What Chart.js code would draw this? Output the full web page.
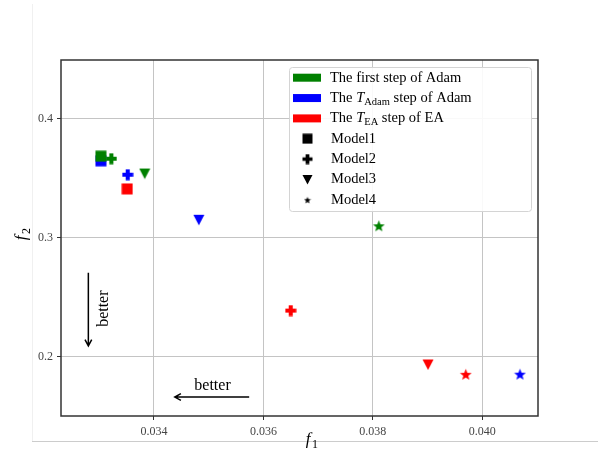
<!DOCTYPE html>
<html lang="en">
<head>
    <meta charset="UTF-8">
    <title>f1 vs f2 of the models</title>
    <script src="https://cdn.jsdelivr.net/npm/chart.js"></script>
    <style>
        body {
            margin: 0;
            padding: 0;
            background-color: white;
        }
        .chart-box {
            width: 605px;
            height: 451px;
        }
    </style>
</head>
<body>

    <div class="chart-box">
        <canvas id="chart" width="605" height="451"></canvas>
    </div>

    <script>
        // values
        const models = ['Model1', 'Model2', 'Model3', 'Model4'];
        const firstStepF1 = [0.03303, 0.03322, 0.03383, 0.03811];
        const firstStepF2 = [0.3683, 0.3662, 0.3538, 0.3100];
        const adamStepF1 = [0.03303, 0.03352, 0.03482, 0.04069];
        const adamStepF2 = [0.3645, 0.3528, 0.3150, 0.1856];
        const eaStepF1 = [0.03351, 0.03650, 0.03901, 0.03970];
        const eaStepF2 = [0.3409, 0.2389, 0.1937, 0.1855];

        const xTicks = [0.034, 0.036, 0.038, 0.040];
        const yTicks = [0.2, 0.3, 0.4];

        const serif = "'Liberation Serif', 'DejaVu Serif', serif";

        // marker images (square, plus, triangle down, star)
        function makeMarker(shape, color, size) {
            const c = document.createElement('canvas');
            c.width = size;
            c.height = size;
            const g = c.getContext('2d');
            const m = size / 2;
            g.fillStyle = color;
            g.beginPath();
            if (shape === 'square') {
                g.rect(0.5, 0.5, size - 1, size - 1);
            } else if (shape === 'plus') {
                const t = size * 0.17;
                g.rect(m - t, 0.5, 2 * t, size - 1);
                g.rect(0.5, m - t, size - 1, 2 * t);
            } else if (shape === 'tri') {
                g.moveTo(0.5, size * 0.08);
                g.lineTo(size - 0.5, size * 0.08);
                g.lineTo(m, size * 0.95);
                g.closePath();
            } else if (shape === 'star') {
                const R = m - 0.3, r = R * 0.42;
                for (let i = 0; i < 10; i++) {
                    const a = -Math.PI / 2 + i * Math.PI / 5;
                    const rad = i % 2 === 0 ? R : r;
                    const px = m + rad * Math.cos(a);
                    const py = m + 0.6 + rad * Math.sin(a);
                    if (i === 0) g.moveTo(px, py); else g.lineTo(px, py);
                }
                g.closePath();
            }
            g.fill();
            return c;
        }

        const shapes = ['square', 'plus', 'tri', 'star'];
        const sizes = [12, 12, 12, 13];
        function markersFor(color) {
            return shapes.map((s, i) => makeMarker(s, color, sizes[i]));
        }

        function points(xs, ys) {
            return xs.map((x, i) => ({ x: x, y: ys[i] }));
        }

        const legendSteps = [
            { color: '#008000', parts: [['The first step of Adam', 'n']] },
            { color: '#0000ff', parts: [['The ', 'n'], ['T', 'i'], ['Adam', 's'], [' step of Adam', 'n']] },
            { color: '#ff0000', parts: [['The ', 'n'], ['T', 'i'], ['EA', 's'], [' step of EA', 'n']] }
        ];
        const legendMarkers = [
            makeMarker('square', '#000', 11),
            makeMarker('plus', '#000', 11),
            makeMarker('tri', '#000', 11),
            makeMarker('star', '#000', 8)
        ];

        function drawParts(ctx, parts, x, y) {
            ctx.textBaseline = 'middle';
            ctx.textAlign = 'left';
            parts.forEach(([txt, kind]) => {
                let dy = 0;
                if (kind === 'i') ctx.font = 'italic 14.5px ' + serif;
                else if (kind === 's') { ctx.font = '10.5px ' + serif; dy = 4; }
                else ctx.font = '14.5px ' + serif;
                ctx.fillText(txt, x, y + dy);
                x += ctx.measureText(txt).width;
            });
        }

        function arrow(ctx, x1, y1, x2, y2) {
            const a = Math.atan2(y2 - y1, x2 - x1);
            ctx.beginPath();
            ctx.moveTo(x1, y1);
            ctx.lineTo(x2, y2);
            ctx.moveTo(x2 - 7 * Math.cos(a - 0.5), y2 - 7 * Math.sin(a - 0.5));
            ctx.lineTo(x2, y2);
            ctx.lineTo(x2 - 7 * Math.cos(a + 0.5), y2 - 7 * Math.sin(a + 0.5));
            ctx.stroke();
        }

        const extras = {
            id: 'extras',
            beforeDraw(chart) {
                const ctx = chart.ctx;
                ctx.save();
                ctx.lineWidth = 1;
                ctx.strokeStyle = '#f0f0f0';
                ctx.beginPath();
                ctx.moveTo(32.5, 4);
                ctx.lineTo(32.5, 442);
                ctx.stroke();
                ctx.strokeStyle = '#cccccc';
                ctx.beginPath();
                ctx.moveTo(32, 441.5);
                ctx.lineTo(598, 441.5);
                ctx.stroke();
                ctx.restore();
            },
            afterDraw(chart) {
                const ctx = chart.ctx;
                const a = chart.chartArea;
                const xs = chart.scales.x, ys = chart.scales.y;
                ctx.save();

                // frame
                ctx.strokeStyle = '#333';
                ctx.lineWidth = 1.5;
                ctx.strokeRect(a.left, a.top, a.right - a.left, a.bottom - a.top);

                // "better" arrows
                ctx.strokeStyle = '#000';
                ctx.lineWidth = 1.5;
                arrow(ctx, xs.getPixelForValue(0.0328), ys.getPixelForValue(0.2706),
                    xs.getPixelForValue(0.0328), ys.getPixelForValue(0.2093));
                arrow(ctx, xs.getPixelForValue(0.03574), ys.getPixelForValue(0.1664),
                    xs.getPixelForValue(0.03438), ys.getPixelForValue(0.1664));
                ctx.fillStyle = '#000';
                ctx.font = '16px ' + serif;
                ctx.textAlign = 'center';
                ctx.textBaseline = 'middle';
                ctx.fillText('better', xs.getPixelForValue(0.03507), ys.getPixelForValue(0.1757));
                ctx.save();
                ctx.translate(xs.getPixelForValue(0.03308), ys.getPixelForValue(0.2405));
                ctx.rotate(-Math.PI / 2);
                ctx.fillText('better', 0, 0);
                ctx.restore();

                // axis titles
                ctx.font = 'italic 17px ' + serif;
                ctx.fillText('f', 308, 440);
                ctx.font = '12px ' + serif;
                ctx.fillText('1', 315, 445);
                ctx.save();
                ctx.translate(22, 236);
                ctx.rotate(-Math.PI / 2);
                ctx.font = 'italic 17px ' + serif;
                ctx.fillText('f', -2, 0);
                ctx.font = '12px ' + serif;
                ctx.fillText('2', 5, 5);
                ctx.restore();

                // legend
                const lx = 289, ly = 67, lw = 242, lh = 144;
                ctx.beginPath();
                ctx.roundRect(lx + 0.5, ly + 0.5, lw, lh, 3);
                ctx.fillStyle = 'rgba(255,255,255,0.9)';
                ctx.fill();
                ctx.strokeStyle = '#d4d4d4';
                ctx.lineWidth = 1;
                ctx.stroke();
                const rowY = i => 77.7 + i * 20.35;
                ctx.fillStyle = '#000';
                legendSteps.forEach((s, i) => {
                    ctx.fillStyle = s.color;
                    ctx.fillRect(293, rowY(i) - 4, 28, 8);
                    ctx.fillStyle = '#000';
                    drawParts(ctx, s.parts, 330, rowY(i));
                });
                models.forEach((m, i) => {
                    const img = legendMarkers[i];
                    const y = rowY(i + 3);
                    ctx.drawImage(img, 307.5 - img.width / 2, y - img.height / 2);
                    drawParts(ctx, [[m, 'n']], 331, y);
                });
                ctx.restore();
            }
        };

        const ctx = document.getElementById('chart').getContext('2d');
        new Chart(ctx, {
            type: 'scatter',
            data: {
                datasets: [
                    {
                        label: 'The first step of Adam',
                        data: points(firstStepF1, firstStepF2),
                        pointStyle: markersFor('#008000')
                    },
                    {
                        label: 'The T_Adam step of Adam',
                        data: points(adamStepF1, adamStepF2),
                        pointStyle: markersFor('#0000ff')
                    },
                    {
                        label: 'The T_EA step of EA',
                        data: points(eaStepF1, eaStepF2),
                        pointStyle: markersFor('#ff0000')
                    }
                ]
            },
            options: {
                responsive: false,
                animation: false,
                layout: { padding: { top: 60, right: 67, left: 0, bottom: 0 } },
                plugins: {
                    legend: { display: false },
                    tooltip: { enabled: false }
                },
                scales: {
                    x: {
                        type: 'linear',
                        min: 0.0323,
                        max: 0.04102,
                        afterBuildTicks: axis => { axis.ticks = xTicks.map(v => ({ value: v })); },
                        afterFit: scale => { scale.height = 35; },
                        border: { display: false },
                        grid: { color: '#c4c4c4', tickColor: '#333', tickLength: 4, lineWidth: 1 },
                        ticks: {
                            callback: v => v.toFixed(3),
                            color: '#444',
                            padding: 5,
                            maxRotation: 0,
                            font: { family: serif, size: 12 }
                        }
                    },
                    y: {
                        type: 'linear',
                        min: 0.1505,
                        max: 0.449,
                        afterBuildTicks: axis => { axis.ticks = yTicks.map(v => ({ value: v })); },
                        afterFit: scale => { scale.width = 61; },
                        border: { display: false },
                        grid: { color: '#c4c4c4', tickColor: '#333', tickLength: 4, lineWidth: 1 },
                        ticks: {
                            callback: v => v.toFixed(1),
                            color: '#444',
                            padding: 4,
                            font: { family: serif, size: 12 }
                        }
                    }
                }
            },
            plugins: [extras]
        });
    </script>

</body>
</html>
